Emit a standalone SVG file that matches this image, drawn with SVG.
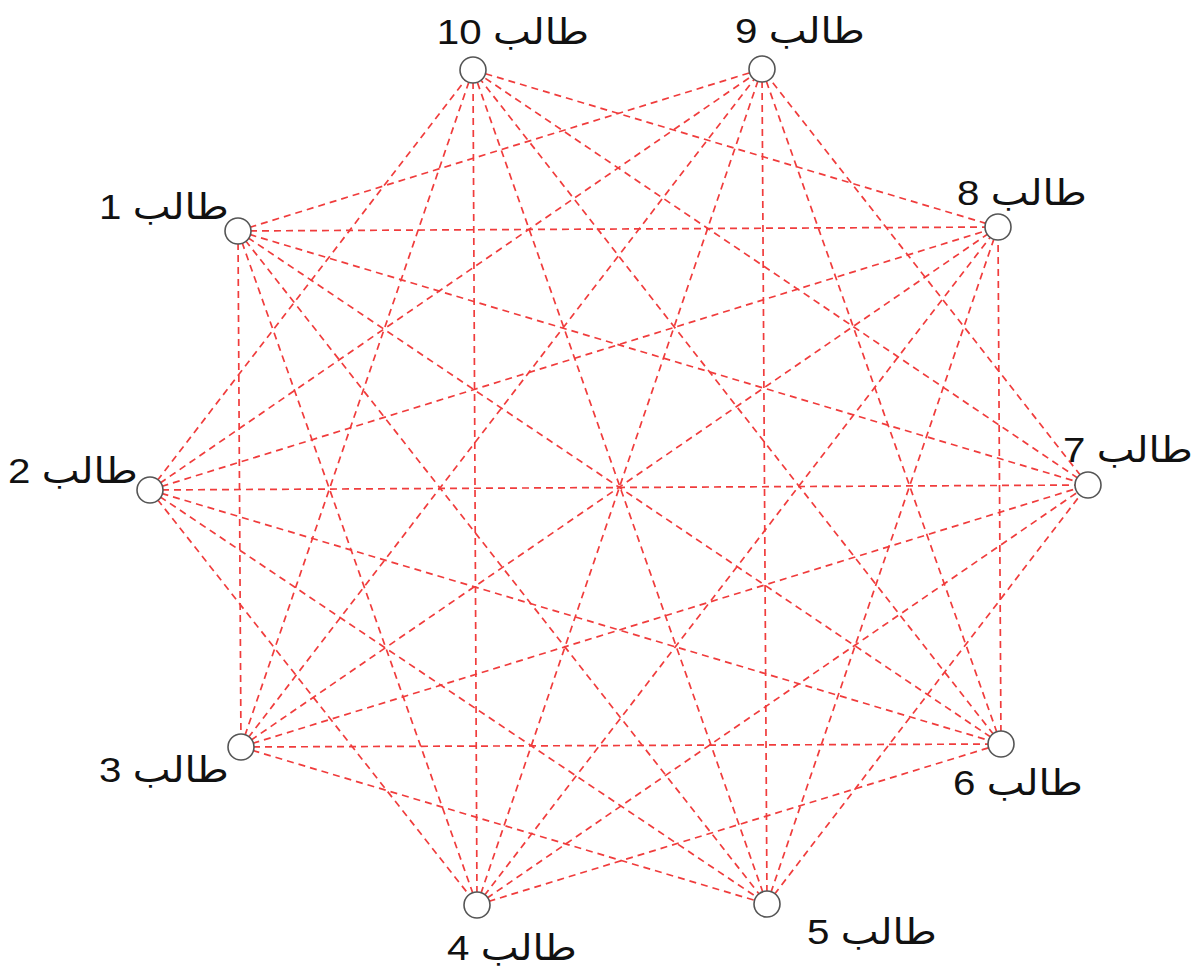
<svg xmlns="http://www.w3.org/2000/svg" width="1199" height="972" viewBox="0 0 1199 972">
<style>
.e{stroke:#f03c3c;stroke-width:1.7;stroke-dasharray:7 5;fill:none}
.n{fill:#fff;stroke:#555;stroke-width:1.6}
.t{font-family:"Liberation Sans","DejaVu Sans",Arial,sans-serif;font-size:36px;fill:#111;text-anchor:middle}
</style>
<rect width="1199" height="972" fill="#fff"/>
<g id="connectors">
<line class="e" x1="238" y1="231" x2="241" y2="747"/>
<line class="e" x1="238" y1="231" x2="477" y2="905"/>
<line class="e" x1="238" y1="231" x2="767" y2="904"/>
<line class="e" x1="238" y1="231" x2="1001" y2="744"/>
<line class="e" x1="238" y1="231" x2="1088" y2="485"/>
<line class="e" x1="238" y1="231" x2="998" y2="227"/>
<line class="e" x1="238" y1="231" x2="762" y2="69"/>
<line class="e" x1="150" y1="490" x2="477" y2="905"/>
<line class="e" x1="150" y1="490" x2="767" y2="904"/>
<line class="e" x1="150" y1="490" x2="1001" y2="744"/>
<line class="e" x1="150" y1="490" x2="1088" y2="485"/>
<line class="e" x1="150" y1="490" x2="998" y2="227"/>
<line class="e" x1="150" y1="490" x2="762" y2="69"/>
<line class="e" x1="150" y1="490" x2="473" y2="70"/>
<line class="e" x1="241" y1="747" x2="767" y2="904"/>
<line class="e" x1="241" y1="747" x2="1001" y2="744"/>
<line class="e" x1="241" y1="747" x2="1088" y2="485"/>
<line class="e" x1="241" y1="747" x2="998" y2="227"/>
<line class="e" x1="241" y1="747" x2="762" y2="69"/>
<line class="e" x1="241" y1="747" x2="473" y2="70"/>
<line class="e" x1="477" y1="905" x2="1001" y2="744"/>
<line class="e" x1="477" y1="905" x2="1088" y2="485"/>
<line class="e" x1="477" y1="905" x2="998" y2="227"/>
<line class="e" x1="477" y1="905" x2="762" y2="69"/>
<line class="e" x1="477" y1="905" x2="473" y2="70"/>
<line class="e" x1="767" y1="904" x2="1088" y2="485"/>
<line class="e" x1="767" y1="904" x2="998" y2="227"/>
<line class="e" x1="767" y1="904" x2="762" y2="69"/>
<line class="e" x1="767" y1="904" x2="473" y2="70"/>
<line class="e" x1="1001" y1="744" x2="998" y2="227"/>
<line class="e" x1="1001" y1="744" x2="762" y2="69"/>
<line class="e" x1="1001" y1="744" x2="473" y2="70"/>
<line class="e" x1="1088" y1="485" x2="762" y2="69"/>
<line class="e" x1="1088" y1="485" x2="473" y2="70"/>
<line class="e" x1="998" y1="227" x2="473" y2="70"/>
</g>
<g id="node1"><circle class="n" cx="238" cy="231" r="13"/><text class="t" transform="translate(164,219) scale(1.12,1)">طالب 1</text></g>
<g id="node2"><circle class="n" cx="150" cy="490" r="13"/><text class="t" transform="translate(73,483) scale(1.12,1)">طالب 2</text></g>
<g id="node3"><circle class="n" cx="241" cy="747" r="13"/><text class="t" transform="translate(164,782) scale(1.12,1)">طالب 3</text></g>
<g id="node4"><circle class="n" cx="477" cy="905" r="13"/><text class="t" transform="translate(512,960) scale(1.12,1)">طالب 4</text></g>
<g id="node5"><circle class="n" cx="767" cy="904" r="13"/><text class="t" transform="translate(872,944) scale(1.12,1)">طالب 5</text></g>
<g id="node6"><circle class="n" cx="1001" cy="744" r="13"/><text class="t" transform="translate(1018,795) scale(1.12,1)">طالب 6</text></g>
<g id="node7"><circle class="n" cx="1088" cy="485" r="13"/><text class="t" transform="translate(1128,462) scale(1.12,1)">طالب 7</text></g>
<g id="node8"><circle class="n" cx="998" cy="227" r="13"/><text class="t" transform="translate(1022,205) scale(1.12,1)">طالب 8</text></g>
<g id="node9"><circle class="n" cx="762" cy="69" r="13"/><text class="t" transform="translate(800,43) scale(1.12,1)">طالب 9</text></g>
<g id="node10"><circle class="n" cx="473" cy="70" r="13"/><text class="t" transform="translate(513,44) scale(1.12,1)">طالب 10</text></g>
</svg>
